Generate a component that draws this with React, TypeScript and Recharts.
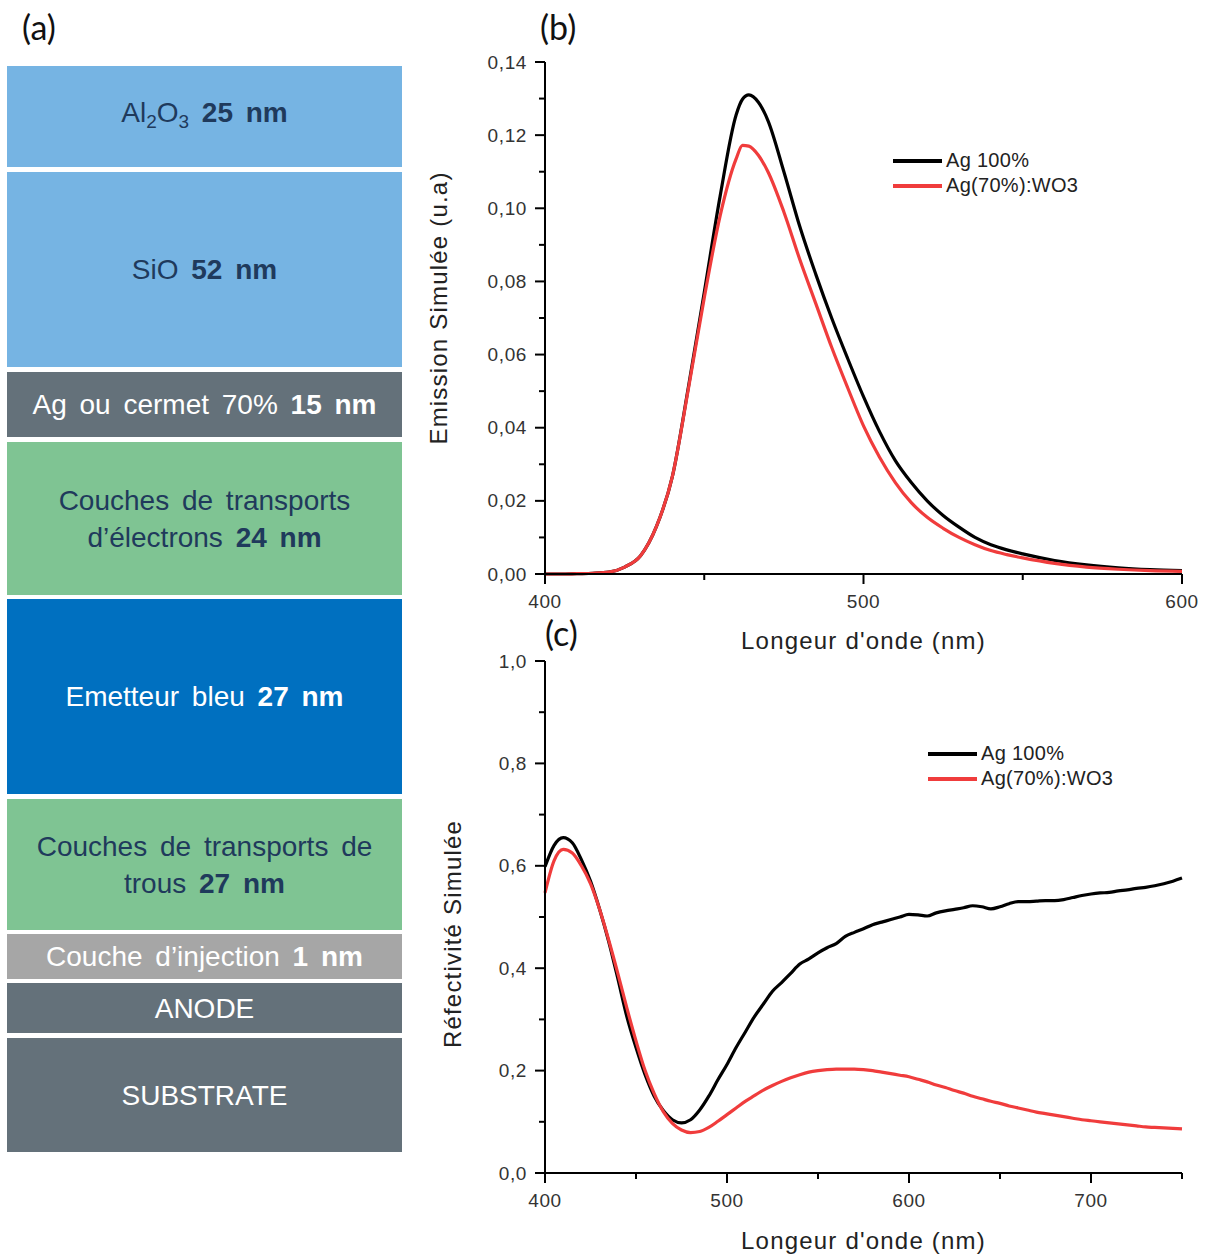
import React from "react";
import { LineChart, Line, XAxis, YAxis, Legend } from "recharts";

// ---- (b) simulated emission ----
const emissionWavelengths = [
  400, 405, 410, 415, 420, 425, 430, 435, 440, 445, 450, 455, 460, 462, 464, 467, 470, 475, 480,
  485, 490, 495, 500, 505, 510, 515, 520, 525, 530, 535, 540, 545, 550, 560, 570, 580, 590, 600,
];
const emissionAg100 = [
  0, 0, 0.0001, 0.0002, 0.0005, 0.0019, 0.005, 0.013, 0.0267, 0.051, 0.077, 0.1034, 0.1255, 0.1298,
  0.131, 0.129, 0.124, 0.11, 0.095, 0.082, 0.07, 0.059, 0.0485, 0.039, 0.031, 0.025, 0.02, 0.016,
  0.0128, 0.01, 0.008, 0.0066, 0.0055, 0.0037, 0.0025, 0.0017, 0.0012, 0.0009,
];
const emissionAg70 = [
  0, 0, 0.0001, 0.0002, 0.0005, 0.0019, 0.005, 0.013, 0.0267, 0.0505, 0.0755, 0.098, 0.1135, 0.1172,
  0.117, 0.1145, 0.11, 0.099, 0.086, 0.074, 0.062, 0.051, 0.0405, 0.032, 0.025, 0.0195, 0.0155,
  0.0125, 0.01, 0.008, 0.0064, 0.0053, 0.0044, 0.0029, 0.0019, 0.0013, 0.0009, 0.0007,
];
const emissionXTicks = [400, 450, 500, 550, 600];
const emissionXLabels = [400, 500, 600];
const emissionYTicks = [
  0, 0.01, 0.02, 0.03, 0.04, 0.05, 0.06, 0.07, 0.08, 0.09, 0.1, 0.11, 0.12, 0.13, 0.14,
];
const emissionYLabels = [0, 0.02, 0.04, 0.06, 0.08, 0.1, 0.12, 0.14];

// ---- (c) simulated reflectivity ----
const reflWavelengths = [
  400, 405, 410, 415, 420, 425, 430, 435, 440, 445, 450, 455, 460, 465, 470, 475, 480, 485, 490,
  495, 500, 505, 510, 515, 520, 525, 530, 535, 540, 545, 550, 555, 560, 565, 570, 575, 580, 585,
  590, 595, 600, 605, 610, 615, 620, 625, 630, 635, 640, 645, 650, 655, 660, 665, 670, 675, 680,
  685, 690, 695, 700, 705, 710, 715, 720, 725, 730, 735, 740, 745, 750,
];
const reflAg100 = [
  0.598, 0.64, 0.655, 0.645, 0.612, 0.57, 0.515, 0.452, 0.38, 0.305, 0.245, 0.192, 0.15, 0.122,
  0.104, 0.098, 0.104, 0.123, 0.15, 0.182, 0.212, 0.245, 0.275, 0.305, 0.33, 0.355, 0.372, 0.39,
  0.408, 0.418, 0.43, 0.44, 0.448, 0.462, 0.47, 0.477, 0.485, 0.49, 0.495, 0.5, 0.505, 0.504,
  0.502, 0.508, 0.512, 0.515, 0.518, 0.522, 0.52, 0.516, 0.52, 0.526, 0.53, 0.53, 0.531, 0.532,
  0.532, 0.534, 0.538, 0.542, 0.545, 0.547, 0.548, 0.551, 0.553, 0.556, 0.558, 0.561, 0.565, 0.57,
  0.576,
];
const reflAg70 = [
  0.547, 0.61, 0.632, 0.625, 0.6, 0.565, 0.515, 0.455, 0.39, 0.322, 0.258, 0.2, 0.155, 0.12, 0.097,
  0.084, 0.079, 0.081, 0.089, 0.101, 0.114, 0.127, 0.14, 0.151, 0.162, 0.171, 0.179, 0.186, 0.192,
  0.197, 0.2, 0.202, 0.203, 0.203, 0.203, 0.202, 0.2, 0.197, 0.194, 0.191, 0.188, 0.183, 0.178,
  0.172, 0.167, 0.161, 0.156, 0.15, 0.145, 0.14, 0.136, 0.131, 0.127, 0.123, 0.119, 0.116, 0.113,
  0.11, 0.107, 0.104, 0.102, 0.1, 0.098, 0.096, 0.094, 0.092, 0.09, 0.089, 0.088, 0.087, 0.086,
];
const reflXTicks = [400, 450, 500, 550, 600, 650, 700, 750];
const reflXLabels = [400, 500, 600, 700];
const reflYTicks = [0, 0.1, 0.2, 0.3, 0.4, 0.5, 0.6, 0.7, 0.8, 0.9, 1.0];
const reflYLabels = [0, 0.2, 0.4, 0.6, 0.8, 1.0];

const seriesNames = ["Ag 100%", "Ag(70%):WO3"];

// ---- (a) layer stack ----
type Seg = { t: string; b?: boolean; sub?: boolean };
const stackLayers: Seg[][][] = [
  [[{ t: "Al" }, { t: "2", sub: true }, { t: "O" }, { t: "3", sub: true }, { t: " 25 nm", b: true }]],
  [[{ t: "SiO " }, { t: "52 nm", b: true }]],
  [[{ t: "Ag ou cermet 70% " }, { t: "15 nm", b: true }]],
  [[{ t: "Couches de transports" }], [{ t: "d\u2019électrons " }, { t: "24 nm", b: true }]],
  [[{ t: "Emetteur bleu " }, { t: "27 nm", b: true }]],
  [[{ t: "Couches de transports de" }], [{ t: "trous " }, { t: "27 nm", b: true }]],
  [[{ t: "Couche d\u2019injection " }, { t: "1 nm", b: true }]],
  [[{ t: "ANODE" }]],
  [[{ t: "SUBSTRATE" }]],
];
const layerTop = [66, 172, 372, 442, 599, 799, 934, 983, 1038];
const layerBottom = [167, 367, 437, 595, 794, 930, 979, 1033, 1152];
const layerFill = ["#76b4e3", "#76b4e3", "#64717a", "#7fc493", "#0070c0", "#7fc493", "#a6a6a6", "#64717a", "#64717a"];
const layerInk = ["#1f3a5c", "#1f3a5c", "#fff", "#1f3a5c", "#fff", "#1f3a5c", "#fff", "#fff", "#fff"];

const FONT = "'Liberation Sans', Arial, sans-serif";
const isIn = (list: number[], v: number) => list.some((m) => Math.abs(m - v) < 1e-6);

function AxisTick(props: any) {
  const { x, y, payload, side, labels, digits } = props;
  const v = payload.value;
  const major = isIn(labels, v);
  const len = major ? 10 : 6;
  const text = major && digits !== undefined ? v.toFixed(digits).replace(".", ",") : "";
  const txt = { fontFamily: FONT, fontSize: 19, fill: "#333", letterSpacing: 0.6 };
  if (side === "bottom") {
    return (
      <g>
        <line x1={x} y1={y} x2={x} y2={y + len} stroke="#000" strokeWidth={2} />
        {text && (
          <text x={x} y={y + 27} textAnchor="middle" dominantBaseline="central" style={txt}>
            {text}
          </text>
        )}
      </g>
    );
  }
  if (side === "left") {
    return (
      <g>
        <line x1={x - len} y1={y} x2={x} y2={y} stroke="#000" strokeWidth={2} />
        {text && (
          <text x={x - 18} y={y} textAnchor="end" dominantBaseline="central" style={txt}>
            {text}
          </text>
        )}
      </g>
    );
  }
  if (side === "top") {
    return <line x1={x} y1={y} x2={x} y2={y + len} stroke="#000" strokeWidth={2} />;
  }
  return <line x1={x - len} y1={y} x2={x} y2={y} stroke="#000" strokeWidth={2} />;
}

const titleStyle = { fontFamily: FONT, fontSize: 24, fill: "#222", letterSpacing: 1.2 };

function xTitle(text: string, dy: number) {
  return (p: any) => {
    const vb = p.viewBox;
    return (
      <text x={vb.x + vb.width / 2} y={vb.y + dy} textAnchor="middle" dominantBaseline="central" style={titleStyle}>
        {text}
      </text>
    );
  };
}

function yTitle(text: string, cx: number, shift: number) {
  return (p: any) => {
    const vb = p.viewBox;
    const cy = vb.y + vb.height / 2 + shift;
    return (
      <text
        x={cx}
        y={cy}
        transform={`rotate(-90 ${cx} ${cy})`}
        textAnchor="middle"
        dominantBaseline="central"
        style={titleStyle}
      >
        {text}
      </text>
    );
  };
}

function LegendContent({ payload }: any) {
  return (
    <div style={{ fontFamily: FONT, fontSize: 20, color: "#222", letterSpacing: 0.3 }}>
      {(payload || []).map((entry: any) => (
        <div key={entry.value} style={{ display: "flex", alignItems: "center", height: 25 }}>
          <span style={{ display: "inline-block", width: 49, height: 4, background: entry.color, marginRight: 4 }} />
          <span>{entry.value}</span>
        </div>
      ))}
    </div>
  );
}

const axisLine = { stroke: "#000", strokeWidth: 2 };

const emissionData = emissionWavelengths.map((w, i) => ({ w, ag: emissionAg100[i], cermet: emissionAg70[i] }));
const reflData = reflWavelengths.map((w, i) => ({ w, ag: reflAg100[i], cermet: reflAg70[i] }));

function Panel(props: {
  data: any[];
  height: number;
  top: number;
  xDomain: number[];
  xTicks: number[];
  xLabels: number[];
  yDomain: number[];
  yTicks: number[];
  yLabels: number[];
  digits: number;
  xAxisHeight: number;
  xTitleDy: number;
  yTitleText: string;
  yTitleX: number;
  yTitleShift: number;
  legendLeft: number;
  legendTop: number;
}) {
  const p = props;
  return (
    <LineChart width={787} height={p.height} data={p.data} margin={{ top: p.top, right: 25, bottom: 0, left: 0 }}>
      <XAxis
        xAxisId="b"
        dataKey="w"
        type="number"
        domain={p.xDomain}
        ticks={p.xTicks}
        interval={0}
        tickSize={0}
        tickMargin={0}
        tickLine={false}
        axisLine={axisLine}
        height={p.xAxisHeight}
        tick={<AxisTick side="bottom" labels={p.xLabels} digits={0} />}
        label={{ content: xTitle("Longeur d'onde (nm)", p.xTitleDy) }}
      />
      <XAxis
        xAxisId="t"
        orientation="top"
        dataKey="w"
        type="number"
        domain={p.xDomain}
        ticks={p.xTicks}
        interval={0}
        tickSize={0}
        tickMargin={0}
        tickLine={false}
        axisLine={axisLine}
        height={0}
        tick={<AxisTick side="top" labels={p.xLabels} />}
      />
      <YAxis
        yAxisId="l"
        type="number"
        domain={p.yDomain}
        ticks={p.yTicks}
        interval={0}
        tickSize={0}
        tickMargin={0}
        tickLine={false}
        axisLine={axisLine}
        width={125}
        tick={<AxisTick side="left" labels={p.yLabels} digits={p.digits} />}
        label={{ content: yTitle(p.yTitleText, p.yTitleX, p.yTitleShift) }}
      />
      <YAxis
        yAxisId="r"
        orientation="right"
        type="number"
        domain={p.yDomain}
        ticks={p.yTicks}
        interval={0}
        tickSize={0}
        tickMargin={0}
        tickLine={false}
        axisLine={axisLine}
        width={0}
        tick={<AxisTick side="right" labels={p.yLabels} />}
      />
      <Legend
        layout="vertical"
        align="center"
        verticalAlign="middle"
        content={<LegendContent />}
        wrapperStyle={{ left: p.legendLeft, top: p.legendTop, width: "auto" }}
      />
      <Line
        xAxisId="b"
        yAxisId="l"
        type="monotone"
        dataKey="ag"
        name={seriesNames[0]}
        stroke="#000"
        strokeWidth={3.2}
        dot={false}
        isAnimationActive={false}
      />
      <Line
        xAxisId="b"
        yAxisId="l"
        type="monotone"
        dataKey="cermet"
        name={seriesNames[1]}
        stroke="#f03c3c"
        strokeWidth={3.2}
        dot={false}
        isAnimationActive={false}
      />
    </LineChart>
  );
}

const tag = { position: "absolute" as const, fontFamily: "Lato, 'Open Sans', sans-serif", fontSize: 34, color: "#111" };

export default function App() {
  return (
    <div style={{ position: "absolute", left: 0, top: 0, width: 1207, height: 1254, background: "#fff", overflow: "hidden" }}>
      <div style={{ ...tag, left: 22, top: 6 }}>(a)</div>
      <div style={{ ...tag, left: 540, top: 6 }}>(b)</div>

      {stackLayers.map((lines, i) => (
        <div
          key={i}
          style={{
            position: "absolute",
            left: 7,
            width: 395,
            top: layerTop[i],
            height: layerBottom[i] - layerTop[i],
            background: layerFill[i],
            color: layerInk[i],
            display: "flex",
            flexDirection: "column",
            alignItems: "center",
            justifyContent: "center",
            fontFamily: FONT,
            fontSize: 28,
            lineHeight: "37px",
            wordSpacing: 5,
          }}
        >
          {lines.map((segs, j) => (
            <div key={j} style={{ whiteSpace: "pre" }}>
              {segs.map((s, k) =>
                s.sub ? (
                  <span key={k} style={{ fontSize: 19, verticalAlign: -6 }}>{s.t}</span>
                ) : (
                  <span key={k} style={{ fontWeight: s.b ? 700 : 400 }}>{s.t}</span>
                )
              )}
            </div>
          ))}
        </div>
      ))}

      <div style={{ position: "absolute", left: 420, top: 40 }}>
        <Panel
          data={emissionData}
          height={620}
          top={22}
          xDomain={[400, 600]}
          xTicks={emissionXTicks}
          xLabels={emissionXLabels}
          yDomain={[0, 0.14]}
          yTicks={emissionYTicks}
          yLabels={emissionYLabels}
          digits={2}
          xAxisHeight={86}
          xTitleDy={66}
          yTitleText="Emission Simulée (u.a)"
          yTitleX={18}
          yTitleShift={-10}
          legendLeft={473}
          legendTop={108}
        />
      </div>

      <div style={{ position: "absolute", left: 420, top: 640 }}>
        <Panel
          data={reflData}
          height={614}
          top={21}
          xDomain={[400, 750]}
          xTicks={reflXTicks}
          xLabels={reflXLabels}
          yDomain={[0, 1]}
          yTicks={reflYTicks}
          yLabels={reflYLabels}
          digits={1}
          xAxisHeight={81}
          xTitleDy={67}
          yTitleText="Réfectivité Simulée"
          yTitleX={32}
          yTitleShift={17}
          legendLeft={508}
          legendTop={101}
        />
      </div>
      <div style={{ ...tag, left: 545, top: 612 }}>(c)</div>
    </div>
  );
}
